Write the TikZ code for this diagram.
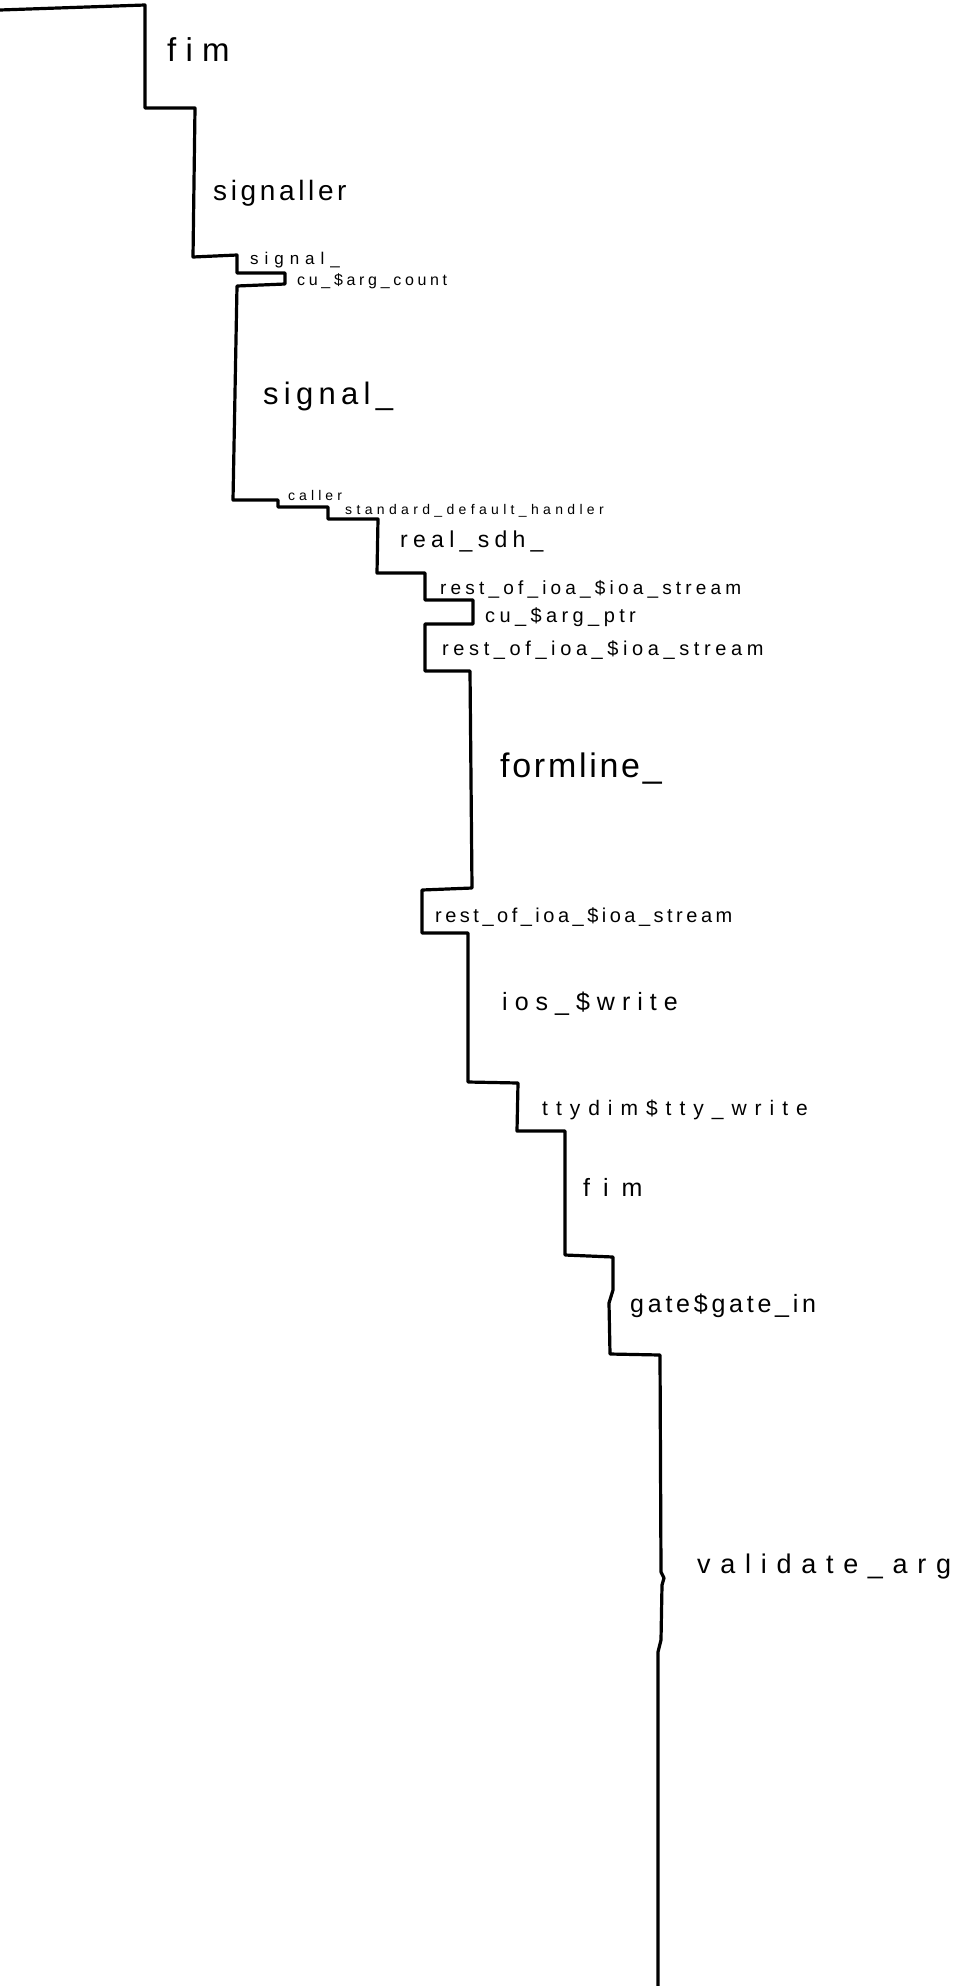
\documentclass[tikz,border=0pt]{standalone}
\usepackage{fontspec}
\setmainfont{Liberation Sans}
\newcommand\hw[3]{{\addfontfeatures{LetterSpace=#2}\fontsize{#1}{#1}\selectfont #3}}
\begin{document}
\begin{tikzpicture}[x=1pt,y=1pt,
  lbl/.style={inner sep=0pt, anchor=base west, text=black},
  trace/.style={line width=3.2pt, line join=round, line cap=round, black}]
\fill[white] (0,0) rectangle (954,-1986);
\useasboundingbox (0,0) rectangle (954,-1986);

% labels
\node[lbl] (fimA)      at (167,-61)  {\hw{33}{28}{fim}};
\node[lbl] (signaller) at (213,-200) {\hw{28}{13}{signaller}};
\node[lbl] (signalS)   at (250,-264) {\hw{17}{35}{signal\_}};
\node[lbl] (argcount)  at (297,-285) {\hw{16}{23}{cu\_\$arg\_count}};
\node[lbl] (signalL)   at (263,-404) {\hw{31}{17}{signal\_}};
\node[lbl] (caller)    at (288,-500) {\hw{14}{29}{caller}};
\node[lbl] (sdh)       at (345,-514) {\hw{14}{31}{standard\_default\_handler}};
\node[lbl] (realsdh)   at (400,-547) {\hw{23}{23}{real\_sdh\_}};
\node[lbl] (restA)     at (440,-594) {\hw{19}{22}{rest\_of\_ioa\_\$ioa\_stream}};
\node[lbl] (argptr)    at (485,-622) {\hw{20}{22}{cu\_\$arg\_ptr}};
\node[lbl] (restB)     at (442,-655) {\hw{20}{23}{rest\_of\_ioa\_\$ioa\_stream}};
\node[lbl] (formline)  at (500,-777) {\hw{34}{8}{formline\_}};
\node[lbl] (restC)     at (435,-922) {\hw{20}{17.5}{rest\_of\_ioa\_\$ioa\_stream}};
\node[lbl] (ioswrite)  at (502,-1010) {\hw{25}{28}{ios\_\$write}};
\node[lbl] (ttywrite)  at (542,-1115) {\hw{21}{38}{ttydim\$tty\_write}};
\node[lbl] (fimB)      at (583,-1196) {\hw{25}{52}{fim}};
\node[lbl] (gatein)    at (630,-1312) {\hw{25}{15}{gate\$gate\_in}};
\node[lbl] (validate)  at (697,-1573) {\hw{27}{36}{validate\_arg}};

% the stack trace line
\draw[trace] (0,-10) -- (145,-5) -- (145,-108) -- (195,-108) -- (193,-257)
  -- (237,-255) -- (237,-273) -- (285,-273) -- (285,-284) -- (237,-286)
  -- (233,-500) -- (278,-500) -- (278,-507) -- (328,-507) -- (328,-519)
  -- (378,-519) -- (377,-573) -- (425,-573) -- (425,-600) -- (473,-600)
  -- (473,-624) -- (425,-624) -- (425,-671) -- (470,-671) -- (472,-888)
  -- (422,-890) -- (422,-933) -- (468,-933) -- (468,-1082) -- (518,-1083)
  -- (517,-1131) -- (565,-1131) -- (565,-1255) -- (613,-1257) -- (613,-1290)
  -- (609,-1303) -- (610,-1354) -- (660,-1355) -- (661,-1572) -- (664,-1578)
  -- (662,-1585) -- (661,-1640) -- (658,-1652) -- (658,-1986);
\end{tikzpicture}
\end{document}
